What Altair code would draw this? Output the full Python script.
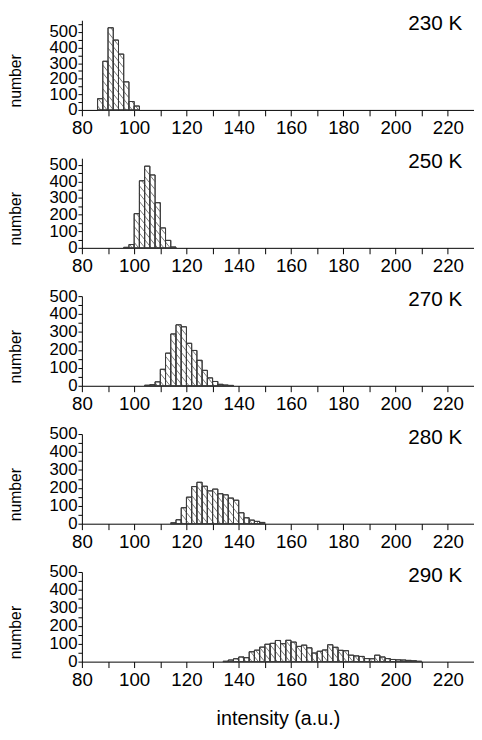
import altair as alt
import pandas as pd
import numpy as np

# ---- data ----
temps = ["230 K", "250 K", "270 K", "280 K", "290 K"]
bin_width = 2
first_bin = [86, 96, 104, 114, 134]
counts_230 = [72, 312, 527, 448, 358, 180, 54, 25]
counts_250 = [3, 20, 206, 404, 492, 439, 272, 120, 45, 5]
counts_270 = [3, 6, 22, 92, 182, 289, 340, 329, 237, 197, 142, 86, 44, 24, 8, 4, 2]
counts_280 = [5, 22, 89, 148, 207, 231, 209, 183, 193, 167, 161, 143, 131, 61, 33, 20, 13, 7]
counts_290 = [2, 9, 16, 26, 22, 55, 64, 81, 97, 102, 118, 100, 119, 109, 85, 92, 77, 48,
              58, 65, 94, 80, 63, 61, 36, 32, 29, 17, 16, 36, 26, 17, 12, 10, 9, 7, 5, 2]
all_counts = [counts_230, counts_250, counts_270, counts_280, counts_290]
y_max = [575, 540, 500, 500, 500]
x_domain = [80, 230]
x_ticks = list(range(80, 221, 10))

# ---- style ----
W, H = 398, 91
FONT = "Liberation Sans"
HATCH_SP = 8.0      # px between hatch lines (vertical)
HATCH_SLOPE = 1.25  # px down per px right


def bars_df(start, counts):
    lo = [start + i * bin_width for i in range(len(counts))]
    return pd.DataFrame({"lo": lo, "hi": [v + bin_width for v in lo], "n": counts})


def hatch_df(df, ymax):
    sx = W / (x_domain[1] - x_domain[0])
    sy = H / ymax
    rows = []
    for lo, hi, n in zip(df["lo"], df["hi"], df["n"]):
        if n <= 0:
            continue
        Xa, Xb, Yv = (lo - x_domain[0]) * sx, (hi - x_domain[0]) * sx, n * sy
        kmin = int(np.floor(HATCH_SLOPE * Xa / HATCH_SP))
        kmax = int(np.ceil((Yv + HATCH_SLOPE * Xb) / HATCH_SP))
        for k in range(kmin, kmax + 1):
            c = k * HATCH_SP
            x1 = max(Xa, (c - Yv) / HATCH_SLOPE)
            x2 = min(Xb, c / HATCH_SLOPE)
            if x2 - x1 > 0.3:
                rows.append({
                    "x": x_domain[0] + x1 / sx, "x2": x_domain[0] + x2 / sx,
                    "y": (c - HATCH_SLOPE * x1) / sy, "y2": (c - HATCH_SLOPE * x2) / sy,
                })
    return pd.DataFrame(rows)


panels = []
for i, (temp, start, counts, ymax) in enumerate(zip(temps, first_bin, all_counts, y_max)):
    last = i == len(temps) - 1
    df = bars_df(start, counts)
    df["zero"] = 0
    hd = hatch_df(df, ymax)
    xscale = alt.Scale(domain=x_domain, nice=False, zero=False)
    yscale = alt.Scale(domain=[0, ymax], nice=False)
    xaxis = alt.Axis(
        values=x_ticks, labelExpr="datum.value % 20 == 0 ? datum.label : ''",
        grid=False, tickSize=6, labelPadding=3, labelFontSize=19, labelFont=FONT,
        labelColor="black", domainColor="black", tickColor="black",
        title="intensity (a.u.)" if last else "", titleFont=FONT, titleFontSize=20,
        titleFontWeight="normal", titleColor="black", titlePadding=20,
        labelFlush=False, labelOverlap=False,
    )
    yaxis = alt.Axis(
        values=list(range(0, ymax + 1, 50)),
        labelExpr="datum.value % 100 == 0 ? datum.label : ''",
        grid=False, tickSize=4, labelPadding=1, labelFontSize=17, labelFont=FONT,
        labelColor="black", domainColor="black", tickColor="black",
        title="number", titleFont=FONT, titleFontSize=16, titleFontWeight="normal",
        titleColor="black", titleX=-67, titleY=61, titleAngle=270,
        titleAlign="center", titleBaseline="middle",
        labelFlush=False, labelOverlap=False,
    )
    bars = alt.Chart(df).mark_rect(fill="white", stroke="#3a3a3a", strokeWidth=1).encode(
        x=alt.X("lo:Q", scale=xscale, axis=xaxis),
        x2="hi:Q",
        y=alt.Y("n:Q", scale=yscale, axis=yaxis),
        y2="zero:Q",
    )
    hatch = alt.Chart(hd).mark_rule(color="#555555", strokeWidth=0.8).encode(
        x=alt.X("x:Q", scale=xscale, axis=xaxis), x2="x2:Q",
        y=alt.Y("y:Q", scale=yscale, axis=yaxis), y2="y2:Q",
    )
    outline = alt.Chart(df).mark_rect(fillOpacity=0, stroke="#3a3a3a", strokeWidth=1).encode(
        x=alt.X("lo:Q", scale=xscale, axis=xaxis), x2="hi:Q",
        y=alt.Y("n:Q", scale=yscale, axis=yaxis), y2="zero:Q",
    )
    label = alt.Chart(pd.DataFrame({"t": [temp]})).mark_text(
        align="right", baseline="alphabetic", font=FONT, fontSize=21, color="black"
    ).encode(text="t:N", x=alt.value(W - 12), y=alt.value(10))
    panels.append(alt.layer(bars, hatch, outline, label).properties(width=W, height=H))

chart = alt.vconcat(*panels, spacing=49, bounds="flush").properties(
    padding={"left": 0, "top": 0, "right": 0, "bottom": 0}
).configure_view(stroke=None).configure_axis(domainWidth=1, tickWidth=1)

chart.save("out.html", embed_options={"renderer": "svg", "actions": False})
